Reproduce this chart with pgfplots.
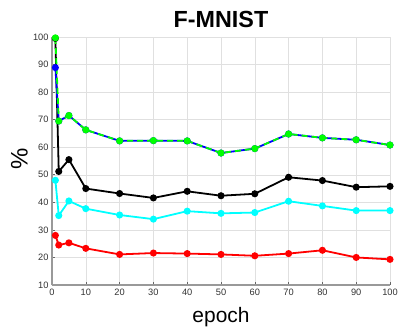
\documentclass[border=0pt]{standalone}
\usepackage{pgfplots}
\pgfplotsset{compat=1.18}
\usepackage{fontspec}
\setmainfont{Liberation Sans}
\definecolor{mcyan}{RGB}{0,255,255}
\definecolor{mgreen}{RGB}{0,255,0}
\definecolor{mred}{RGB}{255,0,0}
\definecolor{mblue}{RGB}{0,0,255}
\begin{document}
\begin{tikzpicture}[x=1bp,y=1bp]
\useasboundingbox (0,0) rectangle (419,327);
\begin{axis}[
  at={(52bp,42bp)}, anchor=south west,
  scale only axis, width=338bp, height=248bp,
  xmin=0, xmax=100, ymin=10, ymax=100,
  xtick={0,10,...,100}, ytick={10,20,...,100},
  grid=major, grid style={black!12, line width=0.5pt},
  axis lines*=left,
  axis line style={black!40, line width=1.3pt, -},
  tick align=inside, major tick length=3bp,
  tick style={black!60, line width=0.6pt},
  ticklabel style={font=\fontsize{9.3}{10}\selectfont, text=black!80},
  xticklabel style={yshift=-1bp},
  /pgf/number format/assume math mode=true,
  clip=false,
  every axis plot/.append style={line width=1.8pt, mark=*, mark size=2.6bp},
]
\addplot[mred, mark options={fill=mred, draw=mred}] coordinates {
(1,28.0) (2,24.5) (5,25.3) (10,23.3) (20,21.1) (30,21.6) (40,21.4) (50,21.1) (60,20.6) (70,21.4) (80,22.6) (90,20.0) (100,19.3)};
\addplot[mcyan, mark options={fill=mcyan, draw=mcyan}] coordinates {
(1,48.0) (2,35.2) (5,40.5) (10,37.7) (20,35.4) (30,33.9) (40,36.8) (50,36.0) (60,36.3) (70,40.4) (80,38.7) (90,37.0) (100,37.0)};
\addplot[black, mark options={fill=black, draw=black}] coordinates {
(1,99.5) (2,51.2) (5,55.5) (10,45.0) (20,43.2) (30,41.6) (40,44.0) (50,42.4) (60,43.1) (70,49.1) (80,47.9) (90,45.5) (100,45.8)};
\addplot[mblue, mark options={fill=mblue, draw=mblue}] coordinates {
(1,88.9) (2,69.5) (5,71.5) (10,66.3) (20,62.3) (30,62.4) (40,62.3) (50,57.9) (60,59.5) (70,64.8) (80,63.4) (90,62.7) (100,60.8)};
\addplot[mgreen, dash pattern=on 6bp off 4bp, mark options={fill=mgreen, draw=mgreen, solid}] coordinates {
(1,99.7) (2,69.5) (5,71.5) (10,66.3) (20,62.3) (30,62.4) (40,62.3) (50,57.9) (60,59.5) (70,64.8) (80,63.4) (90,62.7) (100,60.8)};
\end{axis}
\node[font=\fontsize{23.4}{26}\selectfont\bfseries] at (221,308) {F-MNIST};
\node[font=\fontsize{21}{24}\selectfont, anchor=base] at (221,4.3) {epoch};
\node[font=\fontsize{24}{28}\selectfont, rotate=90] at (19.5,168) {\%};
\end{tikzpicture}
\end{document}
